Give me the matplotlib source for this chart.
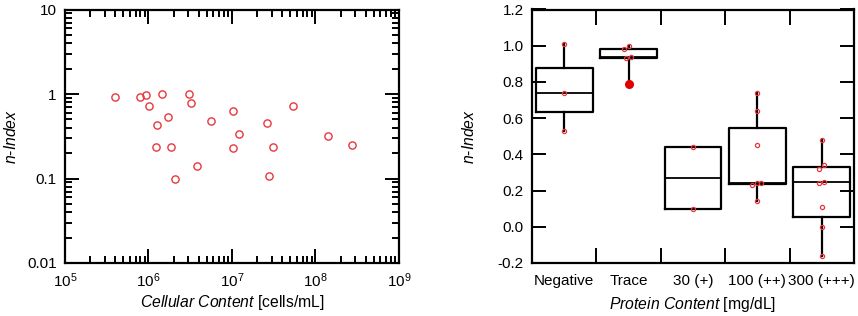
import numpy as np
import matplotlib
matplotlib.use("Agg")
import matplotlib.pyplot as plt
from matplotlib.ticker import LogLocator, FixedLocator, FuncFormatter, NullFormatter, MultipleLocator

plt.rcParams['font.family'] = ['Liberation Sans', 'DejaVu Sans']
plt.rcParams['mathtext.fontset'] = 'custom'
plt.rcParams['mathtext.rm'] = 'Liberation Sans'
plt.rcParams['mathtext.it'] = 'Liberation Sans:italic'
plt.rcParams['axes.unicode_minus'] = False

# ---------------- data ----------------
cells = [3.96e5, 7.9e5, 9.3e5, 1.01e6, 1.46e6, 1.28e6, 1.69e6, 1.24e6, 1.84e6,
         2.05e6, 3.05e6, 3.19e6, 3.76e6, 5.63e6, 1.02e7, 1.03e7, 1.21e7, 2.59e7,
         3.11e7, 2.81e7, 5.45e7, 1.43e8, 2.77e8]
nindex_cells = [0.93, 0.91, 0.97, 0.72, 0.99, 0.43, 0.53, 0.238, 0.238,
                0.099, 1.0, 0.78, 0.141, 0.48, 0.63, 0.227, 0.335, 0.448,
                0.238, 0.108, 0.73, 0.318, 0.249]

categories = ['Negative', 'Trace', '30 (+)', '100 (++)', '300 (+++)']
neg = [1.01, 0.74, 0.53]
trace = [0.98, 1.00, 0.93, 0.94, 0.79]
p30 = [0.44, 0.10]
p100 = [0.74, 0.64, 0.45, 0.23, 0.24, 0.24, 0.14]
p300 = [0.48, 0.34, 0.32, 0.25, 0.24, 0.11, 0.00, -0.16]
groups = [neg, trace, p30, p100, p300]

# horizontal jitter of the dots (style only, category units)
jitter = [[0, 0, 0],
          [-0.073, 0, -0.036, 0.031, 0],
          [0, 0],
          [0, 0, 0, -0.078, 0, 0.062, 0],
          [0, 0.04, -0.047, 0.036, -0.047, 0, 0, 0]]

red = '#e8363c'

fig = plt.figure(figsize=(8.58, 3.16), dpi=100)

# ---------------- left panel ----------------
ax1 = fig.add_axes([65/858, 53/316, 334/858, 253.5/316])
ax1.set_xscale('log')
ax1.set_yscale('log')
ax1.plot(cells, nindex_cells, 'o', ms=5.2, mfc='none', mec=red, mew=1.0, zorder=3)
ax1.set_xlim(1e5, 1e9)
ax1.set_ylim(0.01, 10)
ax1.xaxis.set_major_locator(LogLocator(base=10, numticks=10))
ax1.xaxis.set_minor_locator(LogLocator(base=10, subs=np.arange(2, 10), numticks=20))
ax1.yaxis.set_major_locator(LogLocator(base=10, numticks=10))
ax1.yaxis.set_minor_locator(LogLocator(base=10, subs=np.arange(2, 10), numticks=20))
ax1.xaxis.set_major_formatter(FuncFormatter(lambda v, p: r'$10^{%d}$' % round(np.log10(v))))
ax1.xaxis.set_minor_formatter(NullFormatter())
ax1.yaxis.set_major_formatter(FuncFormatter(lambda v, p: ('%g' % v)))
ax1.yaxis.set_minor_formatter(NullFormatter())
ax1.tick_params(which='both', direction='in', top=True, right=True, labelsize=11, width=1.4)
ax1.tick_params(which='major', length=10, pad=6)
ax1.tick_params(which='minor', length=5)
for s in ax1.spines.values():
    s.set_linewidth(1.6)
ax1.set_xlabel(r'$\mathit{Cellular\ Content}$ [cells/mL]', fontsize=11.3, labelpad=2)
ax1.set_ylabel(r'$\mathit{n}$-$\mathit{Index}$', fontsize=11.3, labelpad=6)

# ---------------- right panel ----------------
ax2 = fig.add_axes([532/858, 53/316, 322/858, 253.5/316])

def hinges(v):
    s = sorted(v)
    n = len(s)
    m = (n + 1) // 2
    return float(np.median(s[:m])), float(np.median(s[n - m:]))

stats = []
outliers_x, outliers_y = [], []
for i, g in enumerate(groups):
    q1, q3 = hinges(g)
    iqr = q3 - q1
    stats.append(dict(med=float(np.median(g)), q1=q1, q3=q3,
                      whislo=min(g), whishi=max(g), fliers=[]))
    for v in g:
        if v < q1 - 1.5 * iqr or v > q3 + 1.5 * iqr:
            outliers_x.append(i)
            outliers_y.append(v)

ax2.bxp(stats, positions=range(len(groups)), widths=0.88, showcaps=False,
        showfliers=False,
        boxprops=dict(color='black', linewidth=1.6),
        medianprops=dict(color='black', linewidth=1.3),
        whiskerprops=dict(color='black', linewidth=1.6))

for i, g in enumerate(groups):
    xs = [i + j for j in jitter[i]]
    ax2.plot(xs, g, 'o', ms=3.0, mfc='none', mec=red, mew=0.9, zorder=4)
ax2.plot(outliers_x, outliers_y, 'o', ms=5.5, color='#e00000', zorder=5)

ax2.set_xlim(-0.5, len(groups) - 0.5)
ax2.set_ylim(-0.2, 1.2)
ax2.yaxis.set_major_locator(MultipleLocator(0.2))
ax2.yaxis.set_major_formatter(FuncFormatter(lambda v, p: '%.1f' % v))
ax2.set_xticks(range(len(groups)))
ax2.set_xticklabels(categories)
ax2.xaxis.set_minor_locator(FixedLocator(np.arange(0.5, len(groups) - 0.5, 1.0)))
ax2.tick_params(axis='x', which='major', length=0, labelsize=11, pad=8)
ax2.tick_params(axis='x', which='minor', direction='in', length=11, width=1.4, top=True)
ax2.tick_params(axis='y', which='major', direction='in', length=10, width=1.4,
                right=True, labelsize=11, pad=6)
for s in ax2.spines.values():
    s.set_linewidth(1.6)
ax2.set_xlabel(r'$\mathit{Protein\ Content}$ [mg/dL]', fontsize=11.3, labelpad=5)
ax2.set_ylabel(r'$\mathit{n}$-$\mathit{Index}$', fontsize=11.3, labelpad=15)

fig.savefig('out.png', dpi=100)
